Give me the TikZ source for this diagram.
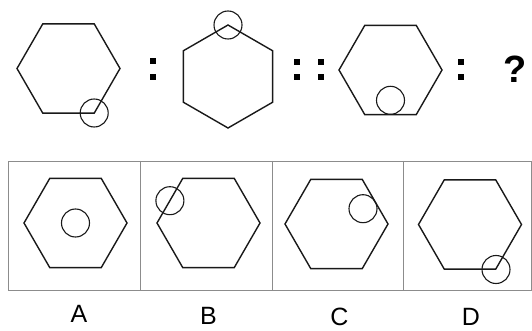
\documentclass[tikz,border=0pt]{standalone}
\usepackage{fontspec}
\setmainfont{Liberation Sans}
\usetikzlibrary{shapes.geometric}
\tikzset{
  hexf/.style={regular polygon, regular polygon sides=6, minimum size=103pt, inner sep=0pt, outer sep=0pt, draw=black!90, line width=1.4pt},
  hexp/.style={hexf, shape border rotate=90},
  ring/.style={circle, minimum size=28pt, inner sep=0pt, draw=black!90, line width=1.1pt},
  dot/.style={rectangle, fill=black, minimum size=6.5pt, inner sep=0pt},
  lbl/.style={font=\fontsize{25}{25}\selectfont},
  frame/.style={draw=black!45, line width=0.7pt}
}
\begin{document}
\begin{tikzpicture}[x=1pt,y=-1pt]
\useasboundingbox (0,0) rectangle (532,331);
% top row
\node[hexf] (h1) at (68.5,68.5) {};
\node[ring] (c1) at (94.2,113) {};
\node[dot] (d1a) at (153,61) {};
\node[dot] (d1b) at (153,77) {};
\node[hexp] (h2) at (228,76.5) {};
\node[ring] (c2) at (228,25) {};
\node[dot] (d2a) at (297,62) {};
\node[dot] (d2b) at (297,77) {};
\node[dot] (d2c) at (321,62) {};
\node[dot] (d2d) at (321,77) {};
\node[hexf] (h3) at (390.5,70) {};
\node[ring] (c3) at (390.5,100.3) {};
\node[dot] (d3a) at (461,62) {};
\node[dot] (d3b) at (461,77) {};
\node[font=\bfseries\fontsize{38}{38}\selectfont] (q) at (515,69) {?};
% frame
\draw[frame] (8,161) rectangle (531,290);
\draw[frame] (140,161) -- (140,290);
\draw[frame] (272,161) -- (272,290);
\draw[frame] (403,161) -- (403,290);
% options
\node[hexf] (ha) at (75.5,223) {};
\node[ring] (ca) at (75.5,223) {};
\node[hexf] (hb) at (208.5,223) {};
\node[ring] (cb) at (169.9,200.7) {};
\node[hexf] (hc) at (336.5,224) {};
\node[ring] (cc) at (363,208.7) {};
\node[hexf] (hd) at (470,224.5) {};
\node[ring] (cd) at (496,269.5) {};
% labels
\node[lbl] (la) at (79,314) {A};
\node[lbl] (lb) at (208.5,316) {B};
\node[lbl] (lc) at (339.5,317) {C};
\node[lbl] (ld) at (471,317) {D};
\end{tikzpicture}
\end{document}
